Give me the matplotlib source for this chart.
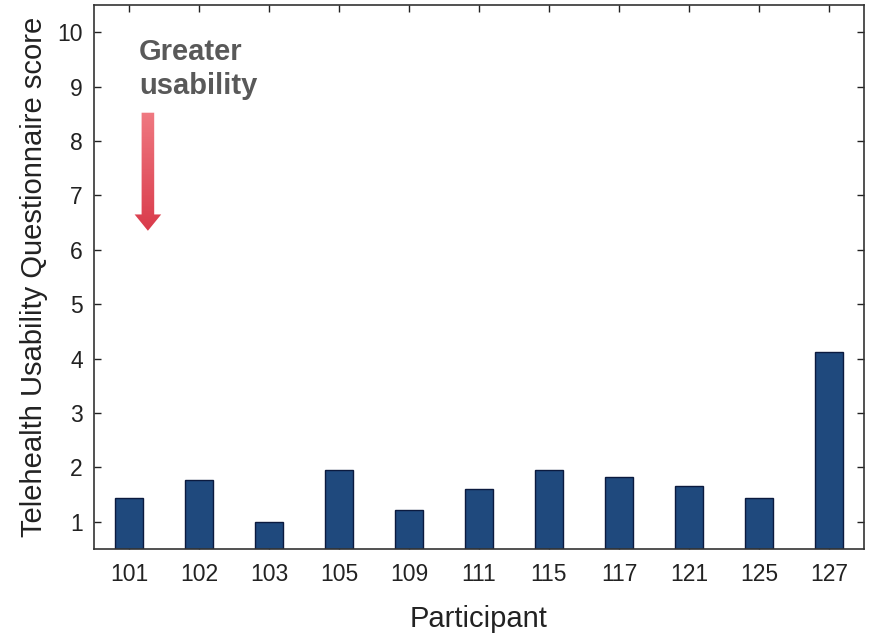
import matplotlib
matplotlib.use("Agg")
import matplotlib.pyplot as plt
import numpy as np
from matplotlib.patches import FancyArrow

participants = ["101", "102", "103", "105", "109", "111", "115", "117", "121", "125", "127"]
scores = [1.43, 1.77, 1.0, 1.95, 1.22, 1.61, 1.95, 1.82, 1.66, 1.43, 4.12]

plt.rcParams['font.family'] = ['Liberation Sans', 'DejaVu Sans']

fig = plt.figure(figsize=(8.69, 6.33), dpi=100)
ax = fig.add_axes([94 / 869, 1 - 549 / 633, 770 / 869, 544 / 633])

x = np.arange(len(participants))
ax.bar(x, scores, width=0.41, color="#1f497d", edgecolor="#0b1a3f", linewidth=1.0, zorder=2)

ax.set_xlim(-0.5, len(participants) - 0.5)
ax.set_ylim(0.5, 10.5)
ax.set_xticks(x)
ax.set_xticklabels(participants)
ax.set_yticks(range(1, 11))
ax.tick_params(direction="in", length=5, width=1, top=True, right=True, colors="#222222")
ax.tick_params(axis="x", labelsize=16.5, pad=10)
ax.tick_params(axis="y", labelsize=16.5, pad=8)
for s in ax.spines.values():
    s.set_color("#333333")
    s.set_linewidth(1.2)

ax.set_xlabel("Participant", fontsize=21, color="#222222", labelpad=14)
ax.set_ylabel("Telehealth Usability Questionnaire score", fontsize=21, color="#222222", labelpad=7)

# annotation: arrow with a vertical red gradient
arrow = FancyArrow(0.27, 8.52, 0, -2.17, width=0.18, head_width=0.38, head_length=0.3,
                   length_includes_head=True, transform=ax.transData,
                   facecolor="none", edgecolor="none", zorder=3)
ax.add_patch(arrow)
grad = np.linspace(0, 1, 100).reshape(-1, 1)
cmap = matplotlib.colors.LinearSegmentedColormap.from_list("g", ["#d93a4a", "#f07a82"])
img = ax.imshow(grad, extent=[0.05, 0.5, 6.3, 8.55], origin="lower", cmap=cmap,
                aspect="auto", zorder=3)
img.set_clip_path(arrow)

ax.text(0.14, 9.9, "Greater\nusability", fontsize=21, fontweight="bold",
        color="#595959", va="top", ha="left", linespacing=1.3, zorder=4)

fig.savefig("out.png", dpi=100)
